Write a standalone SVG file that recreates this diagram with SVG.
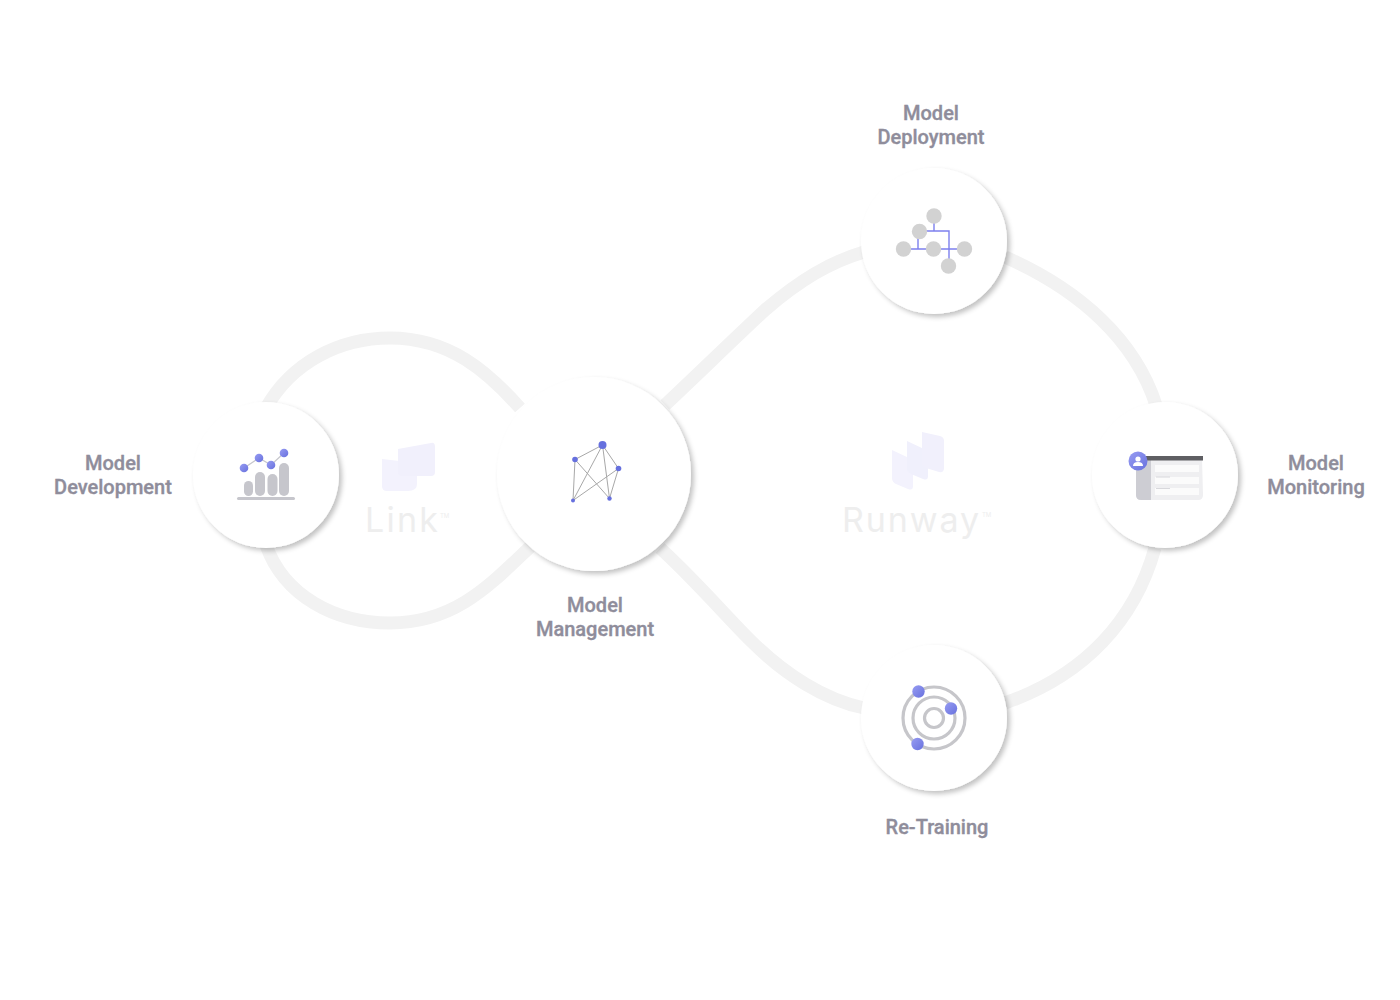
<svg xmlns="http://www.w3.org/2000/svg" width="1400" height="1000" viewBox="0 0 1400 1000">
<defs>
<filter id="sh" x="-20%" y="-20%" width="150%" height="150%"><feDropShadow dx="3" dy="3" stdDeviation="2.500" flood-color="#000" flood-opacity="0.24"/></filter>
<linearGradient id="ball" x1="0" y1="0" x2="1" y2="1"><stop offset="0" stop-color="#979cf2"/><stop offset="1" stop-color="#6871de"/></linearGradient>
</defs>
<style>
.bg{fill:#fff}
.lab{font-family:Roboto,"Liberation Sans",sans-serif;font-size:20px;font-weight:500;fill:#8f8d9b;stroke:#8f8d9b;stroke-width:0.35px;text-anchor:middle}
.wm{font-family:Inter,"Open Sans",sans-serif;font-size:34px;font-weight:400;fill:#eeeeee}
.tm{font-family:Inter,"Open Sans",sans-serif;font-size:6px;fill:#eeeeee}
.node{fill:#fff;filter:url(#sh)}
.track{fill:none;stroke:#f2f2f2;stroke-width:13}
.gr{fill:#c6c6cc}
.edge{stroke:#a8a8a8;stroke-width:1;fill:none}
.dot{fill:#6670de}
.blue{stroke:#7d80ee;stroke-width:1.400;fill:none}
.ring{fill:none;stroke:#c6c6ca;stroke-width:3.200}
</style>
<rect class="bg" width="1400" height="1000"/>
<g id="watermarks">
<g id="link-mark">
<path d="M382 459 L408 462 Q417 463 417 470 L417 484 Q417 491 408 491 L387 491 Q382 491 382 486Z" fill="#f3f2fd"/>
<path d="M398 449 L431 443 Q435 442 435 447 L435 472 Q435 476 431 476 L402 476 Q398 476 398 472Z" fill="#f1f0fc"/>
<text class="wm" x="365" y="532" textLength="73">Link</text><text class="tm" x="440" y="518">TM</text>
</g>
<g id="runway-mark">
<path d="M892 450 L909 458 Q913 460 913 464 L913 486 Q913 491 908 489 L896 484 Q892 482 892 478Z" fill="#f3f2fd"/>
<path d="M907 441 L924 449 Q928 451 928 455 L928 476 Q928 481 923 479 L911 474 Q907 472 907 468Z" fill="#f0f0fc"/>
<path d="M922 432 L940 436 Q944 437 944 441 L944 468 Q944 473 939 472 L926 468 Q922 466 922 462Z" fill="#f1f0fc"/>
<text class="wm" x="842" y="532" textLength="137">Runway</text><text class="tm" x="982" y="517">TM</text>
</g>
</g>
<g id="connectors">
<path class="track" d="M266 408 C292 362 340 338 390 338 C450 338 488 372 520 408"/>
<path class="track" d="M266 545 C284 596 335 623 390 623 C455 623 490 585 530 547"/>
<path class="track" d="M665 405 C700 372 735 338 765 310 C800 280 830 262 864 252"/>
<path class="track" d="M1005 257 C1080 290 1135 340 1156 405"/>
<path class="track" d="M660 548 C695 580 725 615 750 640 C785 675 825 700 864 708"/>
<path class="track" d="M1005 703 C1085 675 1135 620 1155 548"/>
</g>
<g id="model-development">
<circle class="node" cx="266" cy="475" r="73"/>
<rect class="gr" x="244" y="481" width="9" height="15" rx="4.500"/>
<rect class="gr" x="255" y="472" width="10" height="24" rx="5"/>
<rect class="gr" x="267.500" y="474" width="10" height="22" rx="5"/>
<rect class="gr" x="279" y="463" width="10" height="33" rx="5"/>
<rect class="gr" x="237" y="497" width="58" height="3" rx="1.500"/>
<path d="M244 468 L259 458 L271 465 L284 453" fill="none" stroke="#c6c6cc" stroke-width="1.200"/>
<circle cx="244" cy="468" r="4.300" fill="url(#ball)"/><circle cx="259" cy="458" r="4.300" fill="url(#ball)"/><circle cx="271" cy="465" r="4.300" fill="url(#ball)"/><circle cx="284" cy="453" r="4.300" fill="url(#ball)"/>
<text class="lab" x="113" y="470">Model</text><text class="lab" x="113" y="494">Development</text>
</g>
<g id="model-management">
<circle class="node" cx="594" cy="474" r="97"/>
<path class="edge" d="M602.500 445 L575 459.500 L573 500.500 L602.500 445 L609.500 498.500 L575 459.500 M602.500 445 L618.500 468.500 L609.500 498.500 M618.500 468.500 L573 500.500"/>
<circle class="dot" cx="602.500" cy="445" r="4"/><circle class="dot" cx="575" cy="459.500" r="2.800"/><circle class="dot" cx="618.500" cy="468.500" r="2.800"/><circle class="dot" cx="573" cy="500.500" r="2"/><circle class="dot" cx="609.500" cy="498.500" r="2.200"/>
<text class="lab" x="595" y="612">Model</text><text class="lab" x="595" y="636">Management</text>
</g>
<g id="model-deployment">
<circle class="node" cx="934" cy="241" r="73"/>
<path class="blue" d="M934 216 L934 231 M919.500 231 L949 231 L949 266 M918 231 L918 249 M904 249 L964 249"/>
<g fill="#d2d2d2"><circle cx="934" cy="216" r="7.700"/><circle cx="919.500" cy="231.500" r="7.700"/><circle cx="903.500" cy="249" r="7.700"/><circle cx="933.500" cy="249" r="7.700"/><circle cx="964.500" cy="249" r="7.700"/><circle cx="948.500" cy="266" r="7.700"/></g>
<text class="lab" x="931" y="120">Model</text><text class="lab" x="931" y="144">Deployment</text>
</g>
<g id="model-monitoring">
<circle class="node" cx="1165" cy="475" r="73"/>
<path d="M1136 458 L1202 458 L1203 495 Q1203 500 1198 500 L1141 500 Q1136 500 1136 495Z" fill="#efeff1"/>
<path d="M1136 460 L1151 460 L1151 500 L1141 500 Q1136 500 1136 495Z" fill="#cdcdd3"/>
<rect x="1146" y="456" width="57" height="4.500" fill="#5f5f63"/>
<rect x="1155" y="465" width="44" height="7" fill="#fbfbfb"/><rect x="1155" y="477" width="44" height="7" fill="#fbfbfb"/><rect x="1155" y="488" width="44" height="7" fill="#fbfbfb"/>
<path d="M1156 477 H1170 M1156 488.500 H1170" stroke="#d8d8dc" stroke-width="1" fill="none"/>
<circle cx="1138" cy="461" r="9.500" fill="url(#ball)"/>
<circle cx="1138" cy="459" r="2.600" fill="#fff"/><path d="M1133 466 Q1133 462 1138 462 Q1143 462 1143 466Z" fill="#fff"/>
<text class="lab" x="1316" y="470">Model</text><text class="lab" x="1316" y="494">Monitoring</text>
</g>
<g id="re-training">
<circle class="node" cx="934" cy="718" r="73"/>
<circle class="ring" cx="934" cy="718" r="9.500"/><circle class="ring" cx="934" cy="718" r="21"/><circle class="ring" cx="934" cy="718" r="31"/>
<circle cx="918.500" cy="691.500" r="6.200" fill="url(#ball)"/><circle cx="951" cy="708.500" r="6.200" fill="url(#ball)"/><circle cx="917.500" cy="744" r="6.200" fill="url(#ball)"/>
<text class="lab" x="937" y="834">Re-Training</text>
</g>
</svg>
